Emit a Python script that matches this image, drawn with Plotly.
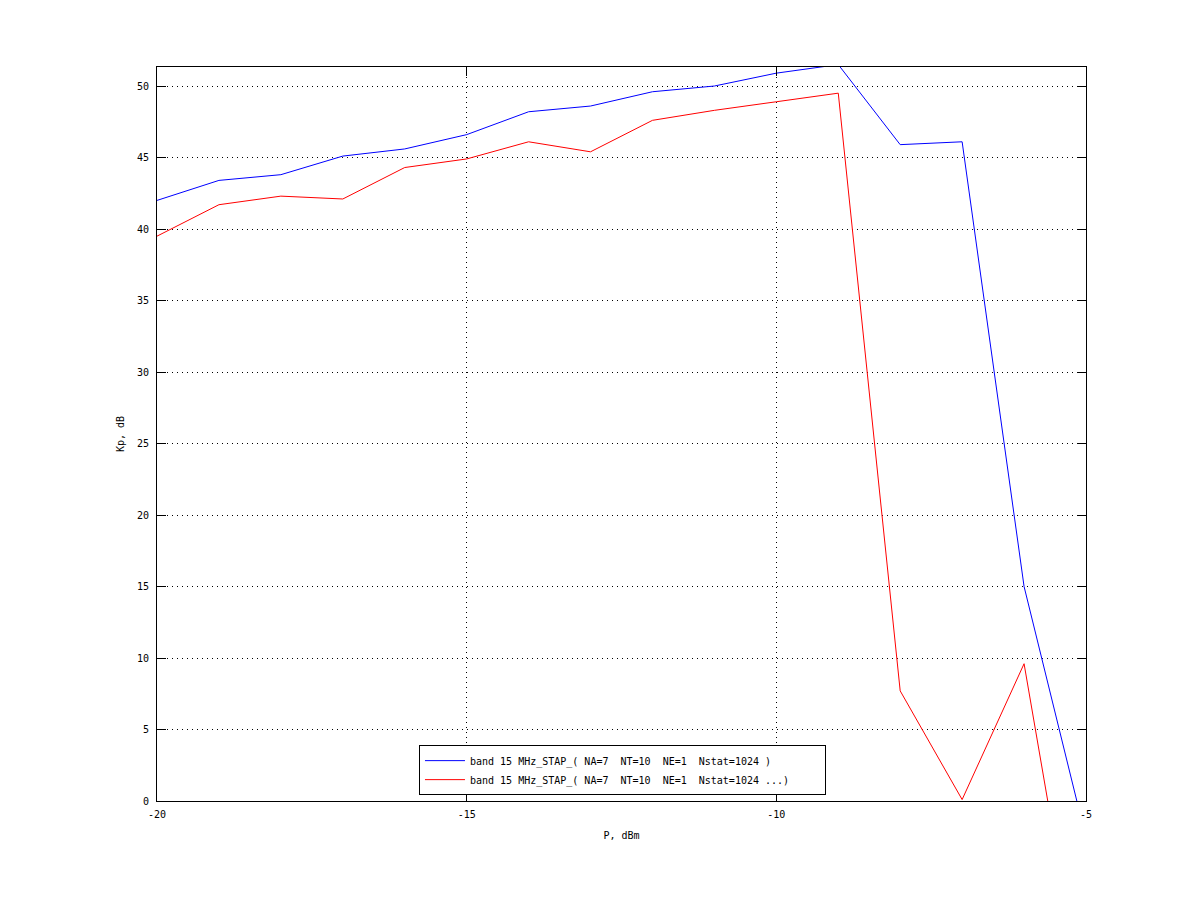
import plotly.graph_objects as go

p_dbm = [-20, -19, -18, -17, -16, -15, -14, -13, -12, -11, -10, -9, -8, -7, -6, -5]
kp_blue = [42.0, 43.4, 43.8, 45.1, 45.6, 46.6, 48.2, 48.6, 49.6, 50.0, 50.9, 51.5, 45.9, 46.1, 15.0, -2.6]
kp_red = [39.5, 41.7, 42.3, 42.1, 44.3, 44.9, 46.1, 45.4, 47.6, 48.3, 48.9, 49.5, 7.7, 0.1, 9.6, -15.5]

name_blue = "band 15 MHz_STAP_( NA=7\u00a0\u00a0NT=10\u00a0\u00a0NE=1\u00a0\u00a0Nstat=1024 )"
name_red = "band 15 MHz_STAP_( NA=7\u00a0\u00a0NT=10\u00a0\u00a0NE=1\u00a0\u00a0Nstat=1024 ...)" + "\u00a0" * 5

x_ticks = [-20, -15, -10, -5]
y_ticks = [0, 5, 10, 15, 20, 25, 30, 35, 40, 45, 50]

fig = go.Figure()
fig.add_trace(go.Scatter(x=p_dbm, y=kp_blue, mode="lines", name=name_blue,
                         line=dict(color="#0000ff", width=1)))
fig.add_trace(go.Scatter(x=p_dbm, y=kp_red, mode="lines", name=name_red,
                         line=dict(color="#ff0000", width=1)))

font = dict(family="DejaVu Sans Mono", size=10, color="black")
axis_common = dict(showline=True, linecolor="black", linewidth=1, mirror="ticks",
                   ticks="inside", ticklen=9, tickcolor="black", tickwidth=1,
                   showgrid=True, gridcolor="black", gridwidth=1, griddash="1px,4px",
                   zeroline=False, tickfont=font)

fig.update_layout(
    width=1192, height=893,
    paper_bgcolor="white", plot_bgcolor="white",
    margin=dict(l=149, r=114, t=59, b=100),
    font=font,
    showlegend=True,
    legend=dict(x=0.282, y=0.008, xanchor="left", yanchor="bottom",
                bgcolor="white", bordercolor="black", borderwidth=1,
                font=dict(family="DejaVu Sans Mono", size=10, color="black"),
                tracegroupgap=0, itemwidth=40),
    xaxis=dict(range=[-20, -5], tickvals=x_ticks, ticktext=[str(v) for v in x_ticks],
               ticklabelstandoff=4,
               title=dict(text="P, dBm", font=font, standoff=12), **axis_common),
    yaxis=dict(range=[0, 51.33], tickvals=y_ticks, ticktext=[str(v) for v in y_ticks],
               ticklabelstandoff=5,
               title=dict(text="Kp, dB", font=font, standoff=10), **axis_common),
)

fig.write_html("out.html")
